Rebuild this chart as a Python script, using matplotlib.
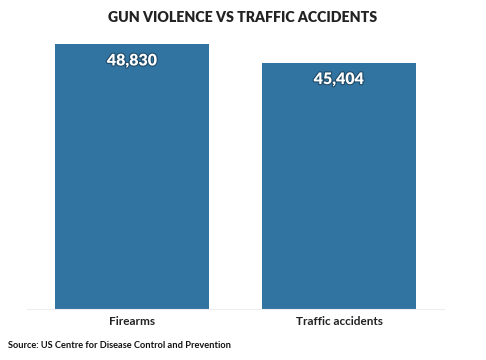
import matplotlib.pyplot as plt
import matplotlib.patheffects as pe

categories = ["Firearms", "Traffic accidents"]
deaths = [48830, 45404]
value_labels = ["48,830", "45,404"]

W, H = 486, 360
fig = plt.figure(figsize=(W / 100, H / 100), dpi=100)
plt.rcParams["font.family"] = ["Lato", "DejaVu Sans"]

# axes placed in pixel units: x 27..444, y 44..309
ax = fig.add_axes([27 / W, 1 - 309 / H, (444 - 27) / W, (309 - 44) / H])
x = list(range(len(categories)))
bars = ax.bar(x, deaths, width=0.745, color="#3274a1")
ax.set_xlim(-0.507, 1.507)
ax.set_ylim(0, max(deaths))

for b, lab in zip(bars, value_labels):
    t = ax.text(b.get_x() + b.get_width() / 2, b.get_height() - max(deaths) * 0.032, lab,
                ha="center", va="top", color="white", fontsize=11.5,
                fontweight="heavy")
    t.set_path_effects([pe.withStroke(linewidth=1.6, foreground="#1e4a68")])

ax.set_xticks(x)
ax.set_xticklabels(categories, fontsize=8.5, fontweight="bold", color="#222222")
ax.tick_params(axis="x", length=0, pad=5)
ax.set_yticks([])
for s in ["top", "right", "left"]:
    ax.spines[s].set_visible(False)
ax.spines["bottom"].set_color("#eeeeee")
ax.spines["bottom"].set_linewidth(0.8)

fig.text(0.5, 1 - 17 / H, "GUN VIOLENCE VS TRAFFIC ACCIDENTS", ha="center",
         va="center", fontsize=10.2, fontweight="heavy", color="#222222")
fig.text(8 / W, 1 - 346 / H, "Source: US Centre for Disease Control and Prevention",
         ha="left", va="center", fontsize=6.7, fontweight="bold", color="#111111")

fig.savefig("out.png", dpi=100)
